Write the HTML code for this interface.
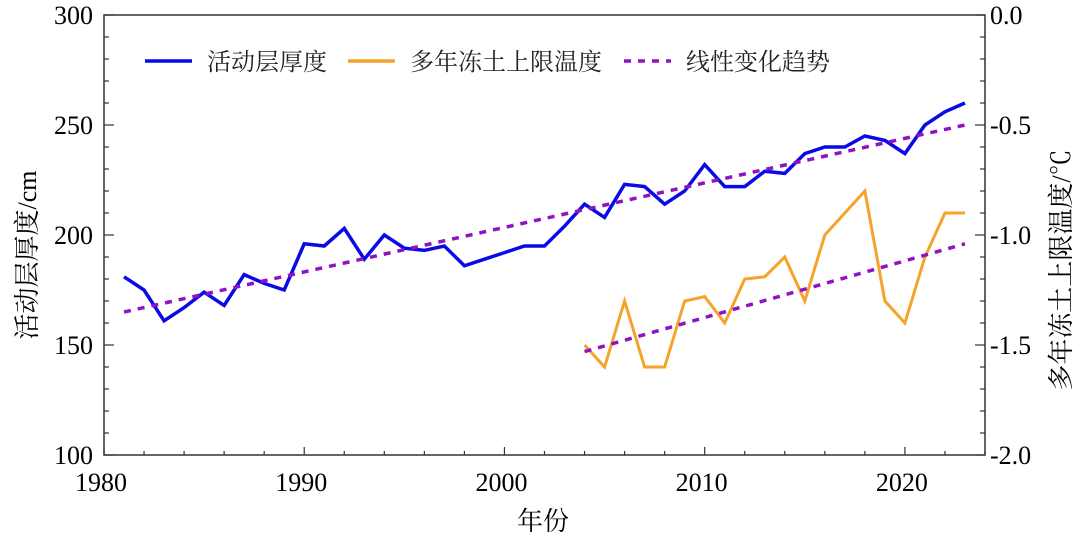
<!DOCTYPE html>
<html><head><meta charset="utf-8"><style>
body{margin:0;background:#fff;}
svg text{font-family:"Liberation Serif","Noto Serif CJK SC",serif;}
.cjk{font-family:"Liberation Serif","Noto Serif CJK SC",serif !important;}
</style></head><body>
<svg id="chart" width="1080" height="538" xmlns="http://www.w3.org/2000/svg"></svg>
<script>
const blueYears = [1981,1982,1983,1984,1985,1986,1987,1988,1989,1990,1991,1992,1993,1994,1995,1996,1997,1998,1999,2000,2001,2002,2003,2004,2005,2006,2007,2008,2009,2010,2011,2012,2013,2014,2015,2016,2017,2018,2019,2020,2021,2022,2023];
const thickness = [181,175,161,167,174,168,182,178,175,196,195,203,189,200,194,193,195,186,189,192,195,195,204,214,208,223,222,214,220,232,222,222,229,228,237,240,240,245,243,237,250,256,260];
const tempYears = [2004,2005,2006,2007,2008,2009,2010,2011,2012,2013,2014,2015,2016,2017,2018,2019,2020,2021,2022,2023];
const temperature = [-1.5,-1.6,-1.3,-1.6,-1.6,-1.3,-1.28,-1.4,-1.2,-1.19,-1.1,-1.3,-1.0,-0.9,-0.8,-1.3,-1.4,-1.1,-0.9,-0.9];
const trendBlue = [[1981,165],[2023,250]];
const trendTemp = [[2004,-1.53],[2023,-1.04]];
const xTicks = [1980,1990,2000,2010,2020];
const yTicks = [100,150,200,250,300];
const y2Ticks = ["-2.0","-1.5","-1.0","-0.5","0.0"];

const L=104,R=985,T=15,B=455;
const X=v=>L+(v-1980)*(R-L)/44;
const Y=v=>B-(v-100)*(B-T)/200;
const Y2=v=>B-(v+2)*(B-T)/2;
const svg=document.getElementById('chart');
const NS='http://www.w3.org/2000/svg';
function mk(tag,attrs,parent){const e=document.createElementNS(NS,tag);for(const k in attrs)e.setAttribute(k,attrs[k]);(parent||svg).appendChild(e);return e;}

const frame=mk('rect',{x:L,y:T,width:R-L,height:B-T,fill:'none',stroke:'#333','stroke-width':1.5});



for(let yr=1980;yr<=2024;yr+=2){const major=yr%10===0;const t=mk('line',{x1:X(yr),x2:X(yr),y1:B,y2:B-(major?8:4),stroke:'#333','stroke-width':1.2});

}
xTicks.forEach(v=>{const t=mk('text',{x:X(v)-3,y:B+36,'text-anchor':'middle','font-size':26,fill:'#000'});t.textContent=v;

});
for(let v=100;v<=300;v+=10){const major=v%50===0;const t=mk('line',{x1:L,x2:L+(major?10:5),y1:Y(v),y2:Y(v),stroke:'#333','stroke-width':1.2});

}
yTicks.forEach(v=>{const t=mk('text',{x:L-11,y:Y(v)+9,'text-anchor':'end','font-size':26,fill:'#000'});t.textContent=v;

});
for(let i=0;i<=20;i++){const v=-2+i*0.1;const major=i%5===0;const t=mk('line',{x1:R,x2:R-(major?10:5),y1:Y2(v),y2:Y2(v),stroke:'#333','stroke-width':1.2});

}
y2Ticks.forEach(s=>{const t=mk('text',{x:R+5,y:Y2(parseFloat(s))+9,'font-size':26,fill:'#000'});t.textContent=s;

});

let t=mk('text',{x:543,y:530,'text-anchor':'middle','font-size':26,class:'cjk'});t.textContent='年份';


t=mk('text',{x:0,y:0,'text-anchor':'middle','font-size':26,class:'cjk',transform:`translate(36,${(T+B)/2+20}) rotate(-90)`});t.textContent='活动层厚度/cm';


t=mk('text',{x:0,y:0,'text-anchor':'middle','font-size':26,class:'cjk',transform:`translate(1070,${(T+B)/2+35}) rotate(-90)`});t.textContent='多年冻土上限温度/℃';



let p=mk('polyline',{points:thickness.map((v,i)=>X(blueYears[i])+','+Y(v)).join(' '),fill:'none',stroke:'#0a0ae6','stroke-width':3.5,'stroke-linejoin':'miter'});


p=mk('polyline',{points:temperature.map((v,i)=>X(tempYears[i])+','+Y2(v)).join(' '),fill:'none',stroke:'#f5a32a','stroke-width':3});


p=mk('line',{x1:X(trendBlue[0][0]),y1:Y(trendBlue[0][1]),x2:X(trendBlue[1][0]),y2:Y(trendBlue[1][1]),stroke:'#9012c0','stroke-width':3.5,'stroke-dasharray':'7,7'});


p=mk('line',{x1:X(trendTemp[0][0]),y1:Y2(trendTemp[0][1]),x2:X(trendTemp[1][0]),y2:Y2(trendTemp[1][1]),stroke:'#9012c0','stroke-width':3.5,'stroke-dasharray':'7,7'});



const leg=[['活动层厚度','#0a0ae6','',145,207],['多年冻土上限温度','#f5a32a','',348,410],['线性变化趋势','#9012c0','7,7',624,686]];
leg.forEach(([lab,c,d,x1,tx])=>{
 const g=mk('g',{});
 
 
 mk('line',{x1:x1,x2:x1+47,y1:61,y2:61,stroke:c,'stroke-width':3.5,'stroke-dasharray':d},g);
 const tx2=mk('text',{x:tx,y:70,'font-size':24,class:'cjk',fill:'#222'},g);tx2.textContent=lab;
});
</script>
</body></html>
